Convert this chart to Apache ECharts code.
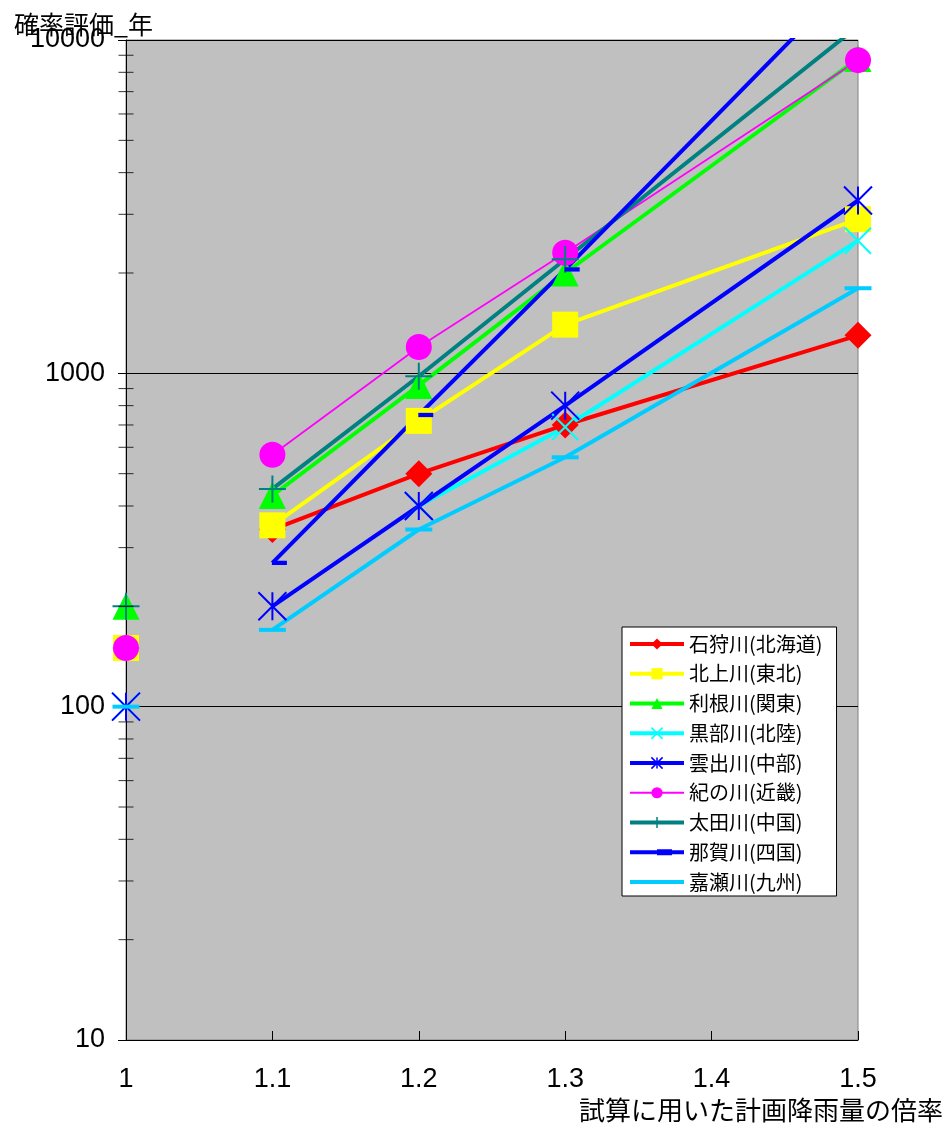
<!DOCTYPE html>
<html>
<head>
<meta charset="utf-8">
<script src="https://cdn.jsdelivr.net/npm/echarts@6/dist/echarts.min.js"></script>
<style>
html,body{margin:0;padding:0;background:#ffffff;}
#chart{width:946px;height:1124px;}
</style>
</head>
<body>
<div id="chart"></div>
<script>
// ---- data ----
const rivers = ['石狩川(北海道)', '北上川(東北)', '利根川(関東)', '黒部川(北陸)', '雲出川(中部)', '紀の川(近畿)', '太田川(中国)', '那賀川(四国)', '嘉瀬川(九州)'];
const baseRatio = 1.0;                 // x of the isolated points
const ratios = [1.1, 1.2, 1.3, 1.5];   // x of the connected points
const baseValues = [150, 150, 200, 100, 100, 150, 200, null, 100];
const ishikari = [340, 500, 700, 1300];
const kitakami = [350, 720, 1400, 2900];
const tone     = [430, 920, 2000, 8800];
const kurobe   = [null, 400, 690, 2500];
const kumozu   = [200, 400, 800, 3300];
const kinokawa = [570, 1200, 2300, 8700];
const ota      = [450, 980, 2200, 11000];
const naka     = [270, 750, 2050, 16000];
const kase     = [170, 340, 560, 1800];
const riverValues = [ishikari, kitakami, tone, kurobe, kumozu, kinokawa, ota, naka, kase];
const xTickLabels = ['1', '1.1', '1.2', '1.3', '1.4', '1.5'];
const yMinorTicks = [20, 30, 40, 50, 60, 70, 80, 90, 200, 300, 400, 500, 600, 700, 800, 900, 2000, 3000, 4000, 5000, 6000, 7000, 8000, 9000];
const yTitle = '確率評価_年';
const xTitle = '試算に用いた計画降雨量の倍率';

// ---- styles ----
const colors = ['#FF0000', '#FFFF00', '#00FF00', '#00FFFF', '#0000FF', '#FF00FF', '#008080', '#0000FF', '#00CCFF'];
const lineWidths = [4, 4, 4, 4, 4, 1.8, 4, 4, 4];
const symbols = [
  'diamond', 'rect', 'triangle',
  'path://M0,0L10,10M10,0L0,10',
  'path://M0,0L10,10M10,0L0,10M5,0L5,10',
  'circle',
  'path://M5,0L5,10M0,5L10,5',
  'path://M0,0H14V4H0Z',
  'path://M0,0H27V4H0Z'
];
const symbolSizes = [27, 26, 27, 26, 28, 26, 27, 15, 27];
const symbolOffsets = [[0,0],[0,0],[0,0],[0,0],[0,0],[0,0],[0,0],[7,0],[0,0]];
const strokeWidths = [0, 0, 0, 2, 2, 0, 2, 0, 0];
// legend icons for the dash markers (line + dash), others use the default line+symbol icon
const legendIcons = [null, null, null, null, null, null, null,
  'path://M0,5.5H54V9.5H0Z M27,4.5H42V10.5H27Z',
  'path://M0,5.5H54V9.5H0Z'];

const CJK = '"Noto Sans CJK JP", "Noto Sans", sans-serif';
const NUM = '"Liberation Sans", Arial, sans-serif';

function markerStyle(i) {
  return {
    symbol: symbols[i],
    symbolSize: symbolSizes[i],
    symbolKeepAspect: true,
    symbolOffset: symbolOffsets[i],
    itemStyle: {
      color: colors[i],
      borderColor: colors[i],
      borderWidth: strokeWidths[i],
      opacity: 1
    }
  };
}

const series = [];
rivers.forEach((name, i) => {
  series.push(Object.assign({
    type: 'line',
    name: name,
    data: ratios.map((x, k) => [x, riverValues[i][k]]),
    showAllSymbol: true,
    connectNulls: false,
    clip: true,
    lineStyle: { color: colors[i], width: lineWidths[i] },
    emphasis: { disabled: true },
    animation: false,
    z: 3
  }, markerStyle(i)));
});
rivers.forEach((name, i) => {
  if (baseValues[i] == null) return;
  series.push(Object.assign({
    type: 'scatter',
    name: name,
    data: [[baseRatio, baseValues[i]]],
    clip: false,
    emphasis: { disabled: true },
    animation: false,
    z: 4
  }, markerStyle(i)));
});
// minor ticks of the log axis (at 2..9 x 10^n)
series.push({
  type: 'scatter',
  name: 'minorTicks',
  data: yMinorTicks.map(v => [baseRatio, v]),
  symbol: 'rect',
  symbolSize: [15, 1],
  itemStyle: { color: '#000000' },
  clip: false,
  silent: true,
  animation: false,
  z: 5
});

const legendData = rivers.map((name, i) => {
  const item = {
    name: name,
    lineStyle: { width: lineWidths[i], color: colors[i] },
    itemStyle: { color: colors[i], borderColor: colors[i], borderWidth: strokeWidths[i] ? 1.5 : 0 }
  };
  if (legendIcons[i]) item.icon = legendIcons[i];
  return item;
});

const chart = echarts.init(document.getElementById('chart'), null, { renderer: 'canvas' });
chart.setOption({
  animation: false,
  backgroundColor: '#ffffff',
  title: {
    text: yTitle,
    left: 14,
    top: 12,
    padding: 0,
    textStyle: { fontSize: 25, fontWeight: 'normal', fontFamily: CJK, color: '#000000' }
  },
  grid: {
    left: 126, right: 88, top: 40, bottom: 84,
    show: true,
    backgroundColor: '#C0C0C0',
    borderColor: '#808080',
    borderWidth: 1
  },
  legend: {
    data: legendData,
    orient: 'vertical',
    left: 622,
    top: 627,
    padding: [7, 14, 4, 6],
    itemWidth: 54,
    itemHeight: 14,
    itemGap: 9.75,
    backgroundColor: '#ffffff',
    borderColor: '#000000',
    borderWidth: 1,
    selectedMode: false,
    textStyle: { fontSize: 20, lineHeight: 20, fontFamily: CJK, color: '#000000' }
  },
  xAxis: {
    type: 'value',
    min: 1,
    max: 1.5,
    interval: 0.1,
    name: xTitle,
    nameLocation: 'end',
    nameGap: 85,
    nameTextStyle: {
      fontSize: 26, fontFamily: CJK, color: '#000000',
      align: 'right', verticalAlign: 'top', padding: [57, 0, 0, 0]
    },
    axisLine: { show: true, onZero: false, lineStyle: { color: '#000000', width: 1 } },
    axisTick: { show: true, inside: true, length: 9, lineStyle: { color: '#000000' } },
    axisLabel: {
      fontSize: 27, fontFamily: NUM, color: '#000000', margin: 26,
      formatter: (v) => xTickLabels[Math.round((v - 1) * 10)]
    },
    splitLine: { show: false }
  },
  yAxis: {
    type: 'log',
    logBase: 10,
    min: 10,
    max: 10000,
    axisLine: { show: true, lineStyle: { color: '#000000', width: 1 } },
    axisTick: { show: true, length: 8, lineStyle: { color: '#000000' } },
    axisLabel: {
      fontSize: 27, fontFamily: NUM, color: '#000000', margin: 21,
      formatter: (v) => String(Math.round(v))
    },
    splitLine: { show: true, lineStyle: { color: '#000000', width: 1 } }
  },
  series: series
});
</script>
</body>
</html>
